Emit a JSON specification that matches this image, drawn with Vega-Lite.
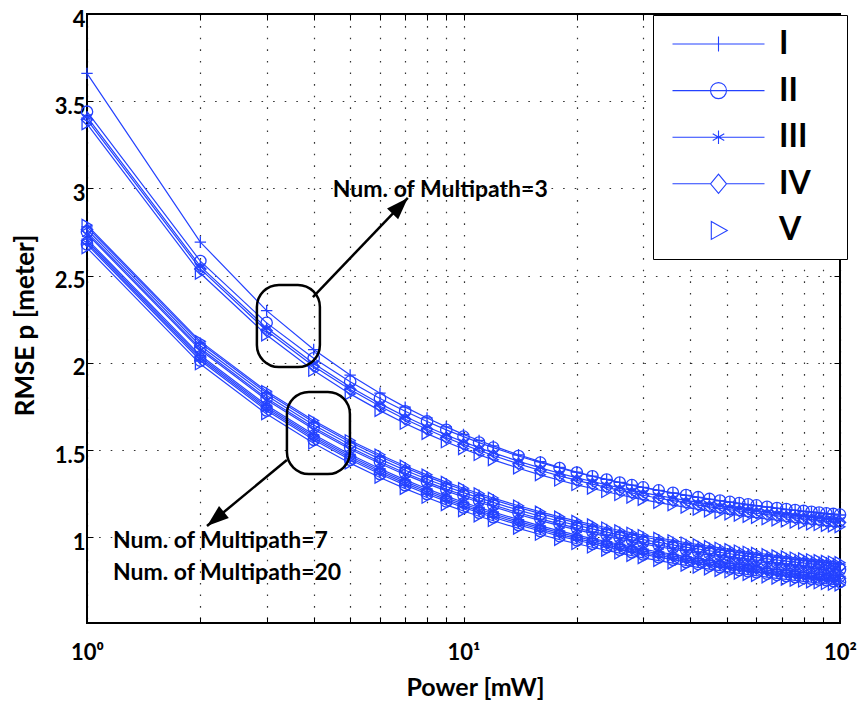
{
"$schema":"https://vega.github.io/schema/vega-lite/v6.json",
"width":753,"height":609,
"autosize":{"type":"none"},
"padding":{"left":87,"top":14,"right":24,"bottom":81},
"config":{
 "view":{"stroke":"black","strokeWidth":2},
 "axis":{"domain":false,"tickColor":"black","tickWidth":1,"labelColor":"black","titleColor":"black","labelFont":"Lato","titleFont":"Lato","labelFontWeight":"bold","titleFontWeight":"bold","gridColor":"black","gridDash":[1.6,10],"gridOpacity":0.8,"gridWidth":1.2,"labelFontSize":22,"titleFontSize":25}
},
"data":{"values":[
{"x":1,"s":"I","m":3,"y":3.66},{"x":2,"s":"I","m":3,"y":2.693},{"x":3,"s":"I","m":3,"y":2.3},{"x":4,"s":"I","m":3,"y":2.077},{"x":5,"s":"I","m":3,"y":1.931},{"x":6,"s":"I","m":3,"y":1.827},{"x":7,"s":"I","m":3,"y":1.747},{"x":8,"s":"I","m":3,"y":1.685},{"x":9,"s":"I","m":3,"y":1.634},{"x":10,"s":"I","m":3,"y":1.591},{"x":11,"s":"I","m":3,"y":1.556},{"x":12,"s":"I","m":3,"y":1.525},{"x":14,"s":"I","m":3,"y":1.474},{"x":16,"s":"I","m":3,"y":1.435},{"x":18,"s":"I","m":3,"y":1.402},{"x":20,"s":"I","m":3,"y":1.375},{"x":22,"s":"I","m":3,"y":1.352},{"x":24,"s":"I","m":3,"y":1.333},{"x":26,"s":"I","m":3,"y":1.316},{"x":28,"s":"I","m":3,"y":1.3},{"x":30,"s":"I","m":3,"y":1.287},{"x":33,"s":"I","m":3,"y":1.27},{"x":36,"s":"I","m":3,"y":1.255},{"x":39,"s":"I","m":3,"y":1.241},{"x":42,"s":"I","m":3,"y":1.23},{"x":45,"s":"I","m":3,"y":1.219},{"x":48,"s":"I","m":3,"y":1.21},{"x":51,"s":"I","m":3,"y":1.202},{"x":54,"s":"I","m":3,"y":1.194},{"x":57,"s":"I","m":3,"y":1.187},{"x":60,"s":"I","m":3,"y":1.181},{"x":64,"s":"I","m":3,"y":1.174},{"x":68,"s":"I","m":3,"y":1.167},{"x":72,"s":"I","m":3,"y":1.16},{"x":76,"s":"I","m":3,"y":1.155},{"x":80,"s":"I","m":3,"y":1.149},{"x":84,"s":"I","m":3,"y":1.145},{"x":88,"s":"I","m":3,"y":1.14},{"x":92,"s":"I","m":3,"y":1.136},{"x":96,"s":"I","m":3,"y":1.132},{"x":100,"s":"I","m":3,"y":1.129},
{"x":1,"s":"II","m":3,"y":3.44},{"x":2,"s":"II","m":3,"y":2.584},{"x":3,"s":"II","m":3,"y":2.23},{"x":4,"s":"II","m":3,"y":2.027},{"x":5,"s":"II","m":3,"y":1.893},{"x":6,"s":"II","m":3,"y":1.797},{"x":7,"s":"II","m":3,"y":1.723},{"x":8,"s":"II","m":3,"y":1.665},{"x":9,"s":"II","m":3,"y":1.617},{"x":10,"s":"II","m":3,"y":1.578},{"x":11,"s":"II","m":3,"y":1.544},{"x":12,"s":"II","m":3,"y":1.515},{"x":14,"s":"II","m":3,"y":1.467},{"x":16,"s":"II","m":3,"y":1.429},{"x":18,"s":"II","m":3,"y":1.398},{"x":20,"s":"II","m":3,"y":1.372},{"x":22,"s":"II","m":3,"y":1.351},{"x":24,"s":"II","m":3,"y":1.332},{"x":26,"s":"II","m":3,"y":1.315},{"x":28,"s":"II","m":3,"y":1.3},{"x":30,"s":"II","m":3,"y":1.287},{"x":33,"s":"II","m":3,"y":1.27},{"x":36,"s":"II","m":3,"y":1.256},{"x":39,"s":"II","m":3,"y":1.243},{"x":42,"s":"II","m":3,"y":1.231},{"x":45,"s":"II","m":3,"y":1.221},{"x":48,"s":"II","m":3,"y":1.212},{"x":51,"s":"II","m":3,"y":1.204},{"x":54,"s":"II","m":3,"y":1.197},{"x":57,"s":"II","m":3,"y":1.19},{"x":60,"s":"II","m":3,"y":1.184},{"x":64,"s":"II","m":3,"y":1.176},{"x":68,"s":"II","m":3,"y":1.169},{"x":72,"s":"II","m":3,"y":1.163},{"x":76,"s":"II","m":3,"y":1.157},{"x":80,"s":"II","m":3,"y":1.152},{"x":84,"s":"II","m":3,"y":1.147},{"x":88,"s":"II","m":3,"y":1.143},{"x":92,"s":"II","m":3,"y":1.138},{"x":96,"s":"II","m":3,"y":1.135},{"x":100,"s":"II","m":3,"y":1.131},
{"x":1,"s":"III","m":3,"y":3.41},{"x":2,"s":"III","m":3,"y":2.554},{"x":3,"s":"III","m":3,"y":2.2},{"x":4,"s":"III","m":3,"y":1.997},{"x":5,"s":"III","m":3,"y":1.863},{"x":6,"s":"III","m":3,"y":1.767},{"x":7,"s":"III","m":3,"y":1.693},{"x":8,"s":"III","m":3,"y":1.635},{"x":9,"s":"III","m":3,"y":1.587},{"x":10,"s":"III","m":3,"y":1.548},{"x":11,"s":"III","m":3,"y":1.514},{"x":12,"s":"III","m":3,"y":1.485},{"x":14,"s":"III","m":3,"y":1.437},{"x":16,"s":"III","m":3,"y":1.399},{"x":18,"s":"III","m":3,"y":1.368},{"x":20,"s":"III","m":3,"y":1.342},{"x":22,"s":"III","m":3,"y":1.321},{"x":24,"s":"III","m":3,"y":1.302},{"x":26,"s":"III","m":3,"y":1.285},{"x":28,"s":"III","m":3,"y":1.27},{"x":30,"s":"III","m":3,"y":1.257},{"x":33,"s":"III","m":3,"y":1.24},{"x":36,"s":"III","m":3,"y":1.226},{"x":39,"s":"III","m":3,"y":1.213},{"x":42,"s":"III","m":3,"y":1.201},{"x":45,"s":"III","m":3,"y":1.191},{"x":48,"s":"III","m":3,"y":1.182},{"x":51,"s":"III","m":3,"y":1.174},{"x":54,"s":"III","m":3,"y":1.167},{"x":57,"s":"III","m":3,"y":1.16},{"x":60,"s":"III","m":3,"y":1.154},{"x":64,"s":"III","m":3,"y":1.146},{"x":68,"s":"III","m":3,"y":1.139},{"x":72,"s":"III","m":3,"y":1.133},{"x":76,"s":"III","m":3,"y":1.127},{"x":80,"s":"III","m":3,"y":1.122},{"x":84,"s":"III","m":3,"y":1.117},{"x":88,"s":"III","m":3,"y":1.113},{"x":92,"s":"III","m":3,"y":1.108},{"x":96,"s":"III","m":3,"y":1.105},{"x":100,"s":"III","m":3,"y":1.101},
{"x":1,"s":"IV","m":3,"y":3.395},{"x":2,"s":"IV","m":3,"y":2.539},{"x":3,"s":"IV","m":3,"y":2.185},{"x":4,"s":"IV","m":3,"y":1.982},{"x":5,"s":"IV","m":3,"y":1.848},{"x":6,"s":"IV","m":3,"y":1.752},{"x":7,"s":"IV","m":3,"y":1.678},{"x":8,"s":"IV","m":3,"y":1.62},{"x":9,"s":"IV","m":3,"y":1.572},{"x":10,"s":"IV","m":3,"y":1.533},{"x":11,"s":"IV","m":3,"y":1.499},{"x":12,"s":"IV","m":3,"y":1.47},{"x":14,"s":"IV","m":3,"y":1.422},{"x":16,"s":"IV","m":3,"y":1.384},{"x":18,"s":"IV","m":3,"y":1.353},{"x":20,"s":"IV","m":3,"y":1.327},{"x":22,"s":"IV","m":3,"y":1.306},{"x":24,"s":"IV","m":3,"y":1.287},{"x":26,"s":"IV","m":3,"y":1.27},{"x":28,"s":"IV","m":3,"y":1.255},{"x":30,"s":"IV","m":3,"y":1.242},{"x":33,"s":"IV","m":3,"y":1.225},{"x":36,"s":"IV","m":3,"y":1.211},{"x":39,"s":"IV","m":3,"y":1.198},{"x":42,"s":"IV","m":3,"y":1.186},{"x":45,"s":"IV","m":3,"y":1.176},{"x":48,"s":"IV","m":3,"y":1.167},{"x":51,"s":"IV","m":3,"y":1.159},{"x":54,"s":"IV","m":3,"y":1.152},{"x":57,"s":"IV","m":3,"y":1.145},{"x":60,"s":"IV","m":3,"y":1.139},{"x":64,"s":"IV","m":3,"y":1.131},{"x":68,"s":"IV","m":3,"y":1.124},{"x":72,"s":"IV","m":3,"y":1.118},{"x":76,"s":"IV","m":3,"y":1.112},{"x":80,"s":"IV","m":3,"y":1.107},{"x":84,"s":"IV","m":3,"y":1.102},{"x":88,"s":"IV","m":3,"y":1.098},{"x":92,"s":"IV","m":3,"y":1.093},{"x":96,"s":"IV","m":3,"y":1.09},{"x":100,"s":"IV","m":3,"y":1.086},
{"x":1,"s":"V","m":3,"y":3.37},{"x":2,"s":"V","m":3,"y":2.514},{"x":3,"s":"V","m":3,"y":2.16},{"x":4,"s":"V","m":3,"y":1.957},{"x":5,"s":"V","m":3,"y":1.823},{"x":6,"s":"V","m":3,"y":1.727},{"x":7,"s":"V","m":3,"y":1.653},{"x":8,"s":"V","m":3,"y":1.595},{"x":9,"s":"V","m":3,"y":1.547},{"x":10,"s":"V","m":3,"y":1.508},{"x":11,"s":"V","m":3,"y":1.474},{"x":12,"s":"V","m":3,"y":1.445},{"x":14,"s":"V","m":3,"y":1.397},{"x":16,"s":"V","m":3,"y":1.359},{"x":18,"s":"V","m":3,"y":1.328},{"x":20,"s":"V","m":3,"y":1.302},{"x":22,"s":"V","m":3,"y":1.281},{"x":24,"s":"V","m":3,"y":1.262},{"x":26,"s":"V","m":3,"y":1.245},{"x":28,"s":"V","m":3,"y":1.23},{"x":30,"s":"V","m":3,"y":1.217},{"x":33,"s":"V","m":3,"y":1.2},{"x":36,"s":"V","m":3,"y":1.186},{"x":39,"s":"V","m":3,"y":1.173},{"x":42,"s":"V","m":3,"y":1.161},{"x":45,"s":"V","m":3,"y":1.151},{"x":48,"s":"V","m":3,"y":1.142},{"x":51,"s":"V","m":3,"y":1.134},{"x":54,"s":"V","m":3,"y":1.127},{"x":57,"s":"V","m":3,"y":1.12},{"x":60,"s":"V","m":3,"y":1.114},{"x":64,"s":"V","m":3,"y":1.106},{"x":68,"s":"V","m":3,"y":1.099},{"x":72,"s":"V","m":3,"y":1.093},{"x":76,"s":"V","m":3,"y":1.087},{"x":80,"s":"V","m":3,"y":1.082},{"x":84,"s":"V","m":3,"y":1.077},{"x":88,"s":"V","m":3,"y":1.073},{"x":92,"s":"V","m":3,"y":1.068},{"x":96,"s":"V","m":3,"y":1.065},{"x":100,"s":"V","m":3,"y":1.061},
{"x":1,"s":"I","m":7,"y":2.78},{"x":2,"s":"I","m":7,"y":2.114},{"x":3,"s":"I","m":7,"y":1.828},{"x":4,"s":"I","m":7,"y":1.66},{"x":5,"s":"I","m":7,"y":1.546},{"x":6,"s":"I","m":7,"y":1.464},{"x":7,"s":"I","m":7,"y":1.4},{"x":8,"s":"I","m":7,"y":1.349},{"x":9,"s":"I","m":7,"y":1.307},{"x":10,"s":"I","m":7,"y":1.272},{"x":11,"s":"I","m":7,"y":1.242},{"x":12,"s":"I","m":7,"y":1.216},{"x":14,"s":"I","m":7,"y":1.172},{"x":16,"s":"I","m":7,"y":1.137},{"x":18,"s":"I","m":7,"y":1.108},{"x":20,"s":"I","m":7,"y":1.084},{"x":22,"s":"I","m":7,"y":1.064},{"x":24,"s":"I","m":7,"y":1.046},{"x":26,"s":"I","m":7,"y":1.03},{"x":28,"s":"I","m":7,"y":1.016},{"x":30,"s":"I","m":7,"y":1.003},{"x":33,"s":"I","m":7,"y":0.987},{"x":36,"s":"I","m":7,"y":0.973},{"x":39,"s":"I","m":7,"y":0.96},{"x":42,"s":"I","m":7,"y":0.949},{"x":45,"s":"I","m":7,"y":0.939},{"x":48,"s":"I","m":7,"y":0.93},{"x":51,"s":"I","m":7,"y":0.922},{"x":54,"s":"I","m":7,"y":0.914},{"x":57,"s":"I","m":7,"y":0.907},{"x":60,"s":"I","m":7,"y":0.901},{"x":64,"s":"I","m":7,"y":0.893},{"x":68,"s":"I","m":7,"y":0.886},{"x":72,"s":"I","m":7,"y":0.88},{"x":76,"s":"I","m":7,"y":0.874},{"x":80,"s":"I","m":7,"y":0.869},{"x":84,"s":"I","m":7,"y":0.864},{"x":88,"s":"I","m":7,"y":0.859},{"x":92,"s":"I","m":7,"y":0.855},{"x":96,"s":"I","m":7,"y":0.851},{"x":100,"s":"I","m":7,"y":0.847},
{"x":1,"s":"II","m":7,"y":2.75},{"x":2,"s":"II","m":7,"y":2.084},{"x":3,"s":"II","m":7,"y":1.798},{"x":4,"s":"II","m":7,"y":1.63},{"x":5,"s":"II","m":7,"y":1.516},{"x":6,"s":"II","m":7,"y":1.434},{"x":7,"s":"II","m":7,"y":1.37},{"x":8,"s":"II","m":7,"y":1.319},{"x":9,"s":"II","m":7,"y":1.277},{"x":10,"s":"II","m":7,"y":1.242},{"x":11,"s":"II","m":7,"y":1.212},{"x":12,"s":"II","m":7,"y":1.186},{"x":14,"s":"II","m":7,"y":1.142},{"x":16,"s":"II","m":7,"y":1.107},{"x":18,"s":"II","m":7,"y":1.078},{"x":20,"s":"II","m":7,"y":1.054},{"x":22,"s":"II","m":7,"y":1.034},{"x":24,"s":"II","m":7,"y":1.016},{"x":26,"s":"II","m":7,"y":1.0},{"x":28,"s":"II","m":7,"y":0.986},{"x":30,"s":"II","m":7,"y":0.973},{"x":33,"s":"II","m":7,"y":0.957},{"x":36,"s":"II","m":7,"y":0.943},{"x":39,"s":"II","m":7,"y":0.93},{"x":42,"s":"II","m":7,"y":0.919},{"x":45,"s":"II","m":7,"y":0.909},{"x":48,"s":"II","m":7,"y":0.9},{"x":51,"s":"II","m":7,"y":0.892},{"x":54,"s":"II","m":7,"y":0.884},{"x":57,"s":"II","m":7,"y":0.877},{"x":60,"s":"II","m":7,"y":0.871},{"x":64,"s":"II","m":7,"y":0.863},{"x":68,"s":"II","m":7,"y":0.856},{"x":72,"s":"II","m":7,"y":0.85},{"x":76,"s":"II","m":7,"y":0.844},{"x":80,"s":"II","m":7,"y":0.839},{"x":84,"s":"II","m":7,"y":0.834},{"x":88,"s":"II","m":7,"y":0.829},{"x":92,"s":"II","m":7,"y":0.825},{"x":96,"s":"II","m":7,"y":0.821},{"x":100,"s":"II","m":7,"y":0.817},
{"x":1,"s":"III","m":7,"y":2.74},{"x":2,"s":"III","m":7,"y":2.074},{"x":3,"s":"III","m":7,"y":1.788},{"x":4,"s":"III","m":7,"y":1.62},{"x":5,"s":"III","m":7,"y":1.506},{"x":6,"s":"III","m":7,"y":1.424},{"x":7,"s":"III","m":7,"y":1.36},{"x":8,"s":"III","m":7,"y":1.309},{"x":9,"s":"III","m":7,"y":1.267},{"x":10,"s":"III","m":7,"y":1.232},{"x":11,"s":"III","m":7,"y":1.202},{"x":12,"s":"III","m":7,"y":1.176},{"x":14,"s":"III","m":7,"y":1.132},{"x":16,"s":"III","m":7,"y":1.097},{"x":18,"s":"III","m":7,"y":1.068},{"x":20,"s":"III","m":7,"y":1.044},{"x":22,"s":"III","m":7,"y":1.024},{"x":24,"s":"III","m":7,"y":1.006},{"x":26,"s":"III","m":7,"y":0.99},{"x":28,"s":"III","m":7,"y":0.976},{"x":30,"s":"III","m":7,"y":0.963},{"x":33,"s":"III","m":7,"y":0.947},{"x":36,"s":"III","m":7,"y":0.933},{"x":39,"s":"III","m":7,"y":0.92},{"x":42,"s":"III","m":7,"y":0.909},{"x":45,"s":"III","m":7,"y":0.899},{"x":48,"s":"III","m":7,"y":0.89},{"x":51,"s":"III","m":7,"y":0.882},{"x":54,"s":"III","m":7,"y":0.874},{"x":57,"s":"III","m":7,"y":0.867},{"x":60,"s":"III","m":7,"y":0.861},{"x":64,"s":"III","m":7,"y":0.853},{"x":68,"s":"III","m":7,"y":0.846},{"x":72,"s":"III","m":7,"y":0.84},{"x":76,"s":"III","m":7,"y":0.834},{"x":80,"s":"III","m":7,"y":0.829},{"x":84,"s":"III","m":7,"y":0.824},{"x":88,"s":"III","m":7,"y":0.819},{"x":92,"s":"III","m":7,"y":0.815},{"x":96,"s":"III","m":7,"y":0.811},{"x":100,"s":"III","m":7,"y":0.807},
{"x":1,"s":"IV","m":7,"y":2.765},{"x":2,"s":"IV","m":7,"y":2.099},{"x":3,"s":"IV","m":7,"y":1.813},{"x":4,"s":"IV","m":7,"y":1.645},{"x":5,"s":"IV","m":7,"y":1.531},{"x":6,"s":"IV","m":7,"y":1.449},{"x":7,"s":"IV","m":7,"y":1.385},{"x":8,"s":"IV","m":7,"y":1.334},{"x":9,"s":"IV","m":7,"y":1.292},{"x":10,"s":"IV","m":7,"y":1.257},{"x":11,"s":"IV","m":7,"y":1.227},{"x":12,"s":"IV","m":7,"y":1.201},{"x":14,"s":"IV","m":7,"y":1.157},{"x":16,"s":"IV","m":7,"y":1.122},{"x":18,"s":"IV","m":7,"y":1.093},{"x":20,"s":"IV","m":7,"y":1.069},{"x":22,"s":"IV","m":7,"y":1.049},{"x":24,"s":"IV","m":7,"y":1.031},{"x":26,"s":"IV","m":7,"y":1.015},{"x":28,"s":"IV","m":7,"y":1.001},{"x":30,"s":"IV","m":7,"y":0.988},{"x":33,"s":"IV","m":7,"y":0.972},{"x":36,"s":"IV","m":7,"y":0.958},{"x":39,"s":"IV","m":7,"y":0.945},{"x":42,"s":"IV","m":7,"y":0.934},{"x":45,"s":"IV","m":7,"y":0.924},{"x":48,"s":"IV","m":7,"y":0.915},{"x":51,"s":"IV","m":7,"y":0.907},{"x":54,"s":"IV","m":7,"y":0.899},{"x":57,"s":"IV","m":7,"y":0.892},{"x":60,"s":"IV","m":7,"y":0.886},{"x":64,"s":"IV","m":7,"y":0.878},{"x":68,"s":"IV","m":7,"y":0.871},{"x":72,"s":"IV","m":7,"y":0.865},{"x":76,"s":"IV","m":7,"y":0.859},{"x":80,"s":"IV","m":7,"y":0.854},{"x":84,"s":"IV","m":7,"y":0.849},{"x":88,"s":"IV","m":7,"y":0.844},{"x":92,"s":"IV","m":7,"y":0.84},{"x":96,"s":"IV","m":7,"y":0.836},{"x":100,"s":"IV","m":7,"y":0.832},
{"x":1,"s":"V","m":7,"y":2.79},{"x":2,"s":"V","m":7,"y":2.124},{"x":3,"s":"V","m":7,"y":1.838},{"x":4,"s":"V","m":7,"y":1.67},{"x":5,"s":"V","m":7,"y":1.556},{"x":6,"s":"V","m":7,"y":1.474},{"x":7,"s":"V","m":7,"y":1.41},{"x":8,"s":"V","m":7,"y":1.359},{"x":9,"s":"V","m":7,"y":1.317},{"x":10,"s":"V","m":7,"y":1.282},{"x":11,"s":"V","m":7,"y":1.252},{"x":12,"s":"V","m":7,"y":1.226},{"x":14,"s":"V","m":7,"y":1.182},{"x":16,"s":"V","m":7,"y":1.147},{"x":18,"s":"V","m":7,"y":1.118},{"x":20,"s":"V","m":7,"y":1.094},{"x":22,"s":"V","m":7,"y":1.074},{"x":24,"s":"V","m":7,"y":1.056},{"x":26,"s":"V","m":7,"y":1.04},{"x":28,"s":"V","m":7,"y":1.026},{"x":30,"s":"V","m":7,"y":1.013},{"x":33,"s":"V","m":7,"y":0.997},{"x":36,"s":"V","m":7,"y":0.983},{"x":39,"s":"V","m":7,"y":0.97},{"x":42,"s":"V","m":7,"y":0.959},{"x":45,"s":"V","m":7,"y":0.949},{"x":48,"s":"V","m":7,"y":0.94},{"x":51,"s":"V","m":7,"y":0.932},{"x":54,"s":"V","m":7,"y":0.924},{"x":57,"s":"V","m":7,"y":0.917},{"x":60,"s":"V","m":7,"y":0.911},{"x":64,"s":"V","m":7,"y":0.903},{"x":68,"s":"V","m":7,"y":0.896},{"x":72,"s":"V","m":7,"y":0.89},{"x":76,"s":"V","m":7,"y":0.884},{"x":80,"s":"V","m":7,"y":0.879},{"x":84,"s":"V","m":7,"y":0.874},{"x":88,"s":"V","m":7,"y":0.869},{"x":92,"s":"V","m":7,"y":0.865},{"x":96,"s":"V","m":7,"y":0.861},{"x":100,"s":"V","m":7,"y":0.857},
{"x":1,"s":"I","m":20,"y":2.71},{"x":2,"s":"I","m":20,"y":2.044},{"x":3,"s":"I","m":20,"y":1.758},{"x":4,"s":"I","m":20,"y":1.59},{"x":5,"s":"I","m":20,"y":1.476},{"x":6,"s":"I","m":20,"y":1.394},{"x":7,"s":"I","m":20,"y":1.33},{"x":8,"s":"I","m":20,"y":1.279},{"x":9,"s":"I","m":20,"y":1.237},{"x":10,"s":"I","m":20,"y":1.202},{"x":11,"s":"I","m":20,"y":1.172},{"x":12,"s":"I","m":20,"y":1.146},{"x":14,"s":"I","m":20,"y":1.102},{"x":16,"s":"I","m":20,"y":1.067},{"x":18,"s":"I","m":20,"y":1.038},{"x":20,"s":"I","m":20,"y":1.014},{"x":22,"s":"I","m":20,"y":0.994},{"x":24,"s":"I","m":20,"y":0.976},{"x":26,"s":"I","m":20,"y":0.96},{"x":28,"s":"I","m":20,"y":0.946},{"x":30,"s":"I","m":20,"y":0.933},{"x":33,"s":"I","m":20,"y":0.917},{"x":36,"s":"I","m":20,"y":0.903},{"x":39,"s":"I","m":20,"y":0.89},{"x":42,"s":"I","m":20,"y":0.879},{"x":45,"s":"I","m":20,"y":0.869},{"x":48,"s":"I","m":20,"y":0.86},{"x":51,"s":"I","m":20,"y":0.852},{"x":54,"s":"I","m":20,"y":0.844},{"x":57,"s":"I","m":20,"y":0.837},{"x":60,"s":"I","m":20,"y":0.831},{"x":64,"s":"I","m":20,"y":0.823},{"x":68,"s":"I","m":20,"y":0.816},{"x":72,"s":"I","m":20,"y":0.81},{"x":76,"s":"I","m":20,"y":0.804},{"x":80,"s":"I","m":20,"y":0.799},{"x":84,"s":"I","m":20,"y":0.794},{"x":88,"s":"I","m":20,"y":0.789},{"x":92,"s":"I","m":20,"y":0.785},{"x":96,"s":"I","m":20,"y":0.781},{"x":100,"s":"I","m":20,"y":0.777},
{"x":1,"s":"II","m":20,"y":2.68},{"x":2,"s":"II","m":20,"y":2.014},{"x":3,"s":"II","m":20,"y":1.728},{"x":4,"s":"II","m":20,"y":1.56},{"x":5,"s":"II","m":20,"y":1.446},{"x":6,"s":"II","m":20,"y":1.364},{"x":7,"s":"II","m":20,"y":1.3},{"x":8,"s":"II","m":20,"y":1.249},{"x":9,"s":"II","m":20,"y":1.207},{"x":10,"s":"II","m":20,"y":1.172},{"x":11,"s":"II","m":20,"y":1.142},{"x":12,"s":"II","m":20,"y":1.116},{"x":14,"s":"II","m":20,"y":1.072},{"x":16,"s":"II","m":20,"y":1.037},{"x":18,"s":"II","m":20,"y":1.008},{"x":20,"s":"II","m":20,"y":0.984},{"x":22,"s":"II","m":20,"y":0.964},{"x":24,"s":"II","m":20,"y":0.946},{"x":26,"s":"II","m":20,"y":0.93},{"x":28,"s":"II","m":20,"y":0.916},{"x":30,"s":"II","m":20,"y":0.903},{"x":33,"s":"II","m":20,"y":0.887},{"x":36,"s":"II","m":20,"y":0.873},{"x":39,"s":"II","m":20,"y":0.86},{"x":42,"s":"II","m":20,"y":0.849},{"x":45,"s":"II","m":20,"y":0.839},{"x":48,"s":"II","m":20,"y":0.83},{"x":51,"s":"II","m":20,"y":0.822},{"x":54,"s":"II","m":20,"y":0.814},{"x":57,"s":"II","m":20,"y":0.807},{"x":60,"s":"II","m":20,"y":0.801},{"x":64,"s":"II","m":20,"y":0.793},{"x":68,"s":"II","m":20,"y":0.786},{"x":72,"s":"II","m":20,"y":0.78},{"x":76,"s":"II","m":20,"y":0.774},{"x":80,"s":"II","m":20,"y":0.769},{"x":84,"s":"II","m":20,"y":0.764},{"x":88,"s":"II","m":20,"y":0.759},{"x":92,"s":"II","m":20,"y":0.755},{"x":96,"s":"II","m":20,"y":0.751},{"x":100,"s":"II","m":20,"y":0.747},
{"x":1,"s":"III","m":20,"y":2.69},{"x":2,"s":"III","m":20,"y":2.024},{"x":3,"s":"III","m":20,"y":1.738},{"x":4,"s":"III","m":20,"y":1.57},{"x":5,"s":"III","m":20,"y":1.456},{"x":6,"s":"III","m":20,"y":1.374},{"x":7,"s":"III","m":20,"y":1.31},{"x":8,"s":"III","m":20,"y":1.259},{"x":9,"s":"III","m":20,"y":1.217},{"x":10,"s":"III","m":20,"y":1.182},{"x":11,"s":"III","m":20,"y":1.152},{"x":12,"s":"III","m":20,"y":1.126},{"x":14,"s":"III","m":20,"y":1.082},{"x":16,"s":"III","m":20,"y":1.047},{"x":18,"s":"III","m":20,"y":1.018},{"x":20,"s":"III","m":20,"y":0.994},{"x":22,"s":"III","m":20,"y":0.974},{"x":24,"s":"III","m":20,"y":0.956},{"x":26,"s":"III","m":20,"y":0.94},{"x":28,"s":"III","m":20,"y":0.926},{"x":30,"s":"III","m":20,"y":0.913},{"x":33,"s":"III","m":20,"y":0.897},{"x":36,"s":"III","m":20,"y":0.883},{"x":39,"s":"III","m":20,"y":0.87},{"x":42,"s":"III","m":20,"y":0.859},{"x":45,"s":"III","m":20,"y":0.849},{"x":48,"s":"III","m":20,"y":0.84},{"x":51,"s":"III","m":20,"y":0.832},{"x":54,"s":"III","m":20,"y":0.824},{"x":57,"s":"III","m":20,"y":0.817},{"x":60,"s":"III","m":20,"y":0.811},{"x":64,"s":"III","m":20,"y":0.803},{"x":68,"s":"III","m":20,"y":0.796},{"x":72,"s":"III","m":20,"y":0.79},{"x":76,"s":"III","m":20,"y":0.784},{"x":80,"s":"III","m":20,"y":0.779},{"x":84,"s":"III","m":20,"y":0.774},{"x":88,"s":"III","m":20,"y":0.769},{"x":92,"s":"III","m":20,"y":0.765},{"x":96,"s":"III","m":20,"y":0.761},{"x":100,"s":"III","m":20,"y":0.757},
{"x":1,"s":"IV","m":20,"y":2.7},{"x":2,"s":"IV","m":20,"y":2.034},{"x":3,"s":"IV","m":20,"y":1.748},{"x":4,"s":"IV","m":20,"y":1.58},{"x":5,"s":"IV","m":20,"y":1.466},{"x":6,"s":"IV","m":20,"y":1.384},{"x":7,"s":"IV","m":20,"y":1.32},{"x":8,"s":"IV","m":20,"y":1.269},{"x":9,"s":"IV","m":20,"y":1.227},{"x":10,"s":"IV","m":20,"y":1.192},{"x":11,"s":"IV","m":20,"y":1.162},{"x":12,"s":"IV","m":20,"y":1.136},{"x":14,"s":"IV","m":20,"y":1.092},{"x":16,"s":"IV","m":20,"y":1.057},{"x":18,"s":"IV","m":20,"y":1.028},{"x":20,"s":"IV","m":20,"y":1.004},{"x":22,"s":"IV","m":20,"y":0.984},{"x":24,"s":"IV","m":20,"y":0.966},{"x":26,"s":"IV","m":20,"y":0.95},{"x":28,"s":"IV","m":20,"y":0.936},{"x":30,"s":"IV","m":20,"y":0.923},{"x":33,"s":"IV","m":20,"y":0.907},{"x":36,"s":"IV","m":20,"y":0.893},{"x":39,"s":"IV","m":20,"y":0.88},{"x":42,"s":"IV","m":20,"y":0.869},{"x":45,"s":"IV","m":20,"y":0.859},{"x":48,"s":"IV","m":20,"y":0.85},{"x":51,"s":"IV","m":20,"y":0.842},{"x":54,"s":"IV","m":20,"y":0.834},{"x":57,"s":"IV","m":20,"y":0.827},{"x":60,"s":"IV","m":20,"y":0.821},{"x":64,"s":"IV","m":20,"y":0.813},{"x":68,"s":"IV","m":20,"y":0.806},{"x":72,"s":"IV","m":20,"y":0.8},{"x":76,"s":"IV","m":20,"y":0.794},{"x":80,"s":"IV","m":20,"y":0.789},{"x":84,"s":"IV","m":20,"y":0.784},{"x":88,"s":"IV","m":20,"y":0.779},{"x":92,"s":"IV","m":20,"y":0.775},{"x":96,"s":"IV","m":20,"y":0.771},{"x":100,"s":"IV","m":20,"y":0.767},
{"x":1,"s":"V","m":20,"y":2.66},{"x":2,"s":"V","m":20,"y":1.994},{"x":3,"s":"V","m":20,"y":1.708},{"x":4,"s":"V","m":20,"y":1.54},{"x":5,"s":"V","m":20,"y":1.426},{"x":6,"s":"V","m":20,"y":1.344},{"x":7,"s":"V","m":20,"y":1.28},{"x":8,"s":"V","m":20,"y":1.229},{"x":9,"s":"V","m":20,"y":1.187},{"x":10,"s":"V","m":20,"y":1.152},{"x":11,"s":"V","m":20,"y":1.122},{"x":12,"s":"V","m":20,"y":1.096},{"x":14,"s":"V","m":20,"y":1.052},{"x":16,"s":"V","m":20,"y":1.017},{"x":18,"s":"V","m":20,"y":0.988},{"x":20,"s":"V","m":20,"y":0.964},{"x":22,"s":"V","m":20,"y":0.944},{"x":24,"s":"V","m":20,"y":0.926},{"x":26,"s":"V","m":20,"y":0.91},{"x":28,"s":"V","m":20,"y":0.896},{"x":30,"s":"V","m":20,"y":0.883},{"x":33,"s":"V","m":20,"y":0.867},{"x":36,"s":"V","m":20,"y":0.853},{"x":39,"s":"V","m":20,"y":0.84},{"x":42,"s":"V","m":20,"y":0.829},{"x":45,"s":"V","m":20,"y":0.819},{"x":48,"s":"V","m":20,"y":0.81},{"x":51,"s":"V","m":20,"y":0.802},{"x":54,"s":"V","m":20,"y":0.794},{"x":57,"s":"V","m":20,"y":0.787},{"x":60,"s":"V","m":20,"y":0.781},{"x":64,"s":"V","m":20,"y":0.773},{"x":68,"s":"V","m":20,"y":0.766},{"x":72,"s":"V","m":20,"y":0.76},{"x":76,"s":"V","m":20,"y":0.754},{"x":80,"s":"V","m":20,"y":0.749},{"x":84,"s":"V","m":20,"y":0.744},{"x":88,"s":"V","m":20,"y":0.739},{"x":92,"s":"V","m":20,"y":0.735},{"x":96,"s":"V","m":20,"y":0.731},{"x":100,"s":"V","m":20,"y":0.727}
]},
"layer":[
 {"mark":{"type":"line","color":"#2442ff","strokeWidth":1.2,"clip":false},
  "encoding":{
   "x":{"field":"x","type":"quantitative","scale":{"type":"log","domain":[1,100],"nice":false},
     "axis":{"orient":"bottom","values":[1,2,3,4,5,6,7,8,9,10,20,30,40,50,60,70,80,90,100],"labelExpr":"datum.value == 1 ? '10⁰' : datum.value == 10 ? '10¹' : datum.value == 100 ? '10²' : ''","labelFlush":false,"labelOverlap":false,"labelPadding":25,"tickSize":-6,"grid":true,"title":"Power [mW]","titleX":388,"titleY":72,"titleAlign":"center","titleBaseline":"alphabetic"}},
   "y":{"field":"y","type":"quantitative","scale":{"domain":[0.51,4],"nice":false,"zero":false},
     "axis":{"orient":"left","values":[1,1.5,2,2.5,3,3.5,4],"format":".2~f","labelPadding":8,"labelOffset":5,"tickSize":-6,"grid":true,"title":"RMSE p [meter]","titleX":-54,"titleY":311,"titleAngle":-90,"titleAlign":"center","titleBaseline":"alphabetic","titleFontSize":26}},
   "detail":[{"field":"s"},{"field":"m"}]
  }},
 {"mark":{"type":"point","filled":false,"color":"#2442ff","strokeWidth":1.3,"size":130,"opacity":1},
  "encoding":{
   "x":{"field":"x","type":"quantitative","axis":{"orient":"top","values":[1,2,3,4,5,6,7,8,9,10,20,30,40,50,60,70,80,90,100],"labels":false,"grid":false,"tickSize":-6,"title":null}},
   "y":{"field":"y","type":"quantitative","axis":{"orient":"right","values":[1,1.5,2,2.5,3,3.5,4],"labels":false,"grid":false,"tickSize":-6,"title":null}},
   "shape":{"field":"s","type":"nominal","scale":{"domain":["I","II","III","IV","V"],"range":["M-1,0H1M0,-1V1","circle","M0,-1V1M-0.87,-0.5L0.87,0.5M-0.87,0.5L0.87,-0.5","diamond","triangle-right"]},"legend":null}
  }},
 {"data":{"values":[{"s":"I"},{"s":"II"},{"s":"III"},{"s":"IV"},{"s":"V"}]},
  "mark":{"type":"point","filled":false,"color":"#2442ff","opacity":0},
  "encoding":{
   "shape":{"field":"s","type":"nominal","scale":{"domain":["I","II","III","IV","V"],"range":["M-2.875,0H2.875M0,-0.47V0.47M7.125,0","M-2.875,0H2.875M0.5,0A0.5,0.5 0 1 1 -0.5,0A0.5,0.5 0 1 1 0.5,0","M-2.875,0H2.875M0,-0.42V0.42M-0.36,-0.21L0.36,0.21M-0.36,0.21L0.36,-0.21","M-2.875,0H-0.5M0.5,0H2.875M-0.5,0L0,-0.6L0.5,0L0,0.6Z","M-2.875,0M-0.45,-0.56L0.55,0L-0.45,0.56Z"]},
     "legend":{"title":null,"orient":"none","legendX":566,"legendY":1,"padding":12,"strokeColor":"black","fillColor":"white","labelFont":"Lato","labelFontSize":32,"labelFontWeight":"bold","labelColor":"black","labelOffset":43.5,"symbolOffset":36.5,"symbolSize":1024,"symbolStrokeWidth":1.1,"symbolStrokeColor":"#2442ff","symbolFillColor":"transparent","symbolOpacity":1,"rowPadding":13.6,"labelLimit":300}}
  }},
 {"data":{"values":[{"x":3.427,"y":2.212},{"x":4.118,"y":1.599}]},
  "mark":{"type":"point","shape":"M-0.226,-0.976H0.226A0.524,0.524 0 0 1 0.75,-0.452V0.452A0.524,0.524 0 0 1 0.226,0.976H-0.226A0.524,0.524 0 0 1 -0.75,0.452V-0.452A0.524,0.524 0 0 1 -0.226,-0.976Z","size":7056,"filled":false,"color":"black","strokeWidth":2.5,"opacity":1},
  "encoding":{"x":{"field":"x","type":"quantitative","axis":null},"y":{"field":"y","type":"quantitative","axis":null}}},
 {"data":{"values":[{"x":3.981,"y":2.378,"x2":7.114,"y2":2.946},{"x":3.395,"y":1.444,"x2":2.083,"y2":1.066}]},
  "mark":{"type":"rule","color":"black","strokeWidth":2.5},
  "encoding":{"x":{"field":"x","type":"quantitative","axis":null},"y":{"field":"y","type":"quantitative","axis":null},"x2":{"field":"x2"},"y2":{"field":"y2"}}},
 {"data":{"values":[{"x":7.114,"y":2.946}]},
  "mark":{"type":"point","shape":"M0,0L-0.35,1L0.35,1Z","size":1936,"filled":true,"color":"black","opacity":1,"angle":43.8,"strokeWidth":0},
  "encoding":{"x":{"field":"x","type":"quantitative","axis":null},"y":{"field":"y","type":"quantitative","axis":null}}},
 {"data":{"values":[{"x":2.083,"y":1.066}]},
  "mark":{"type":"point","shape":"M0,0L-0.35,1L0.35,1Z","size":1936,"filled":true,"color":"black","opacity":1,"angle":230.4,"strokeWidth":0},
  "encoding":{"x":{"field":"x","type":"quantitative","axis":null},"y":{"field":"y","type":"quantitative","axis":null}}},
 {"data":{"values":[{"x":4.498,"y":2.951,"t":"Num. of Multipath=3"},{"x":1.172,"y":0.94,"t":"Num. of Multipath=7"},{"x":1.172,"y":0.756,"t":"Num. of Multipath=20"}]},
  "mark":{"type":"text","align":"left","baseline":"alphabetic","font":"Lato","fontWeight":"bold","fontSize":23,"color":"black"},
  "encoding":{"x":{"field":"x","type":"quantitative","axis":null},"y":{"field":"y","type":"quantitative","axis":null},"text":{"field":"t"}}}
],
"resolve":{"scale":{"shape":"independent"},"axis":{"x":"independent","y":"independent"}}
}
